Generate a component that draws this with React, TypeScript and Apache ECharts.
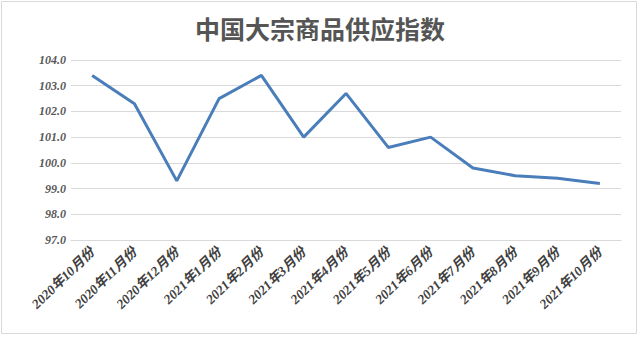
import React, { useEffect, useRef } from "react";
import * as echarts from "echarts";

const categories = [
  "2020年10月份", "2020年11月份", "2020年12月份", "2021年1月份", "2021年2月份", "2021年3月份",
  "2021年4月份", "2021年5月份", "2021年6月份", "2021年7月份", "2021年8月份", "2021年9月份", "2021年10月份",
];
const values = [103.4, 102.3, 99.3, 102.5, 103.4, 101.0, 102.7, 100.6, 101.0, 99.8, 99.5, 99.4, 99.2];
const title = "中国大宗商品供应指数";

export default function App() {
  const ref = useRef<HTMLDivElement>(null);
  useEffect(() => {
    if (!ref.current) return;
    const chart = echarts.init(ref.current, null, { renderer: "svg" });
    chart.setOption({
      animation: false,
      backgroundColor: "#ffffff",
      title: {
        text: title,
        left: "center",
        top: 10,
        textStyle: { fontSize: 25, fontWeight: "bold", color: "#555555", fontFamily: "Noto Sans CJK SC" },
      },
      graphic: [
        {
          type: "rect",
          shape: { x: 1.5, y: 1.5, width: 635, height: 332 },
          style: { fill: "none", stroke: "#d9d9d9", lineWidth: 1 },
          silent: true,
        },
      ],
      grid: { left: 71, right: 19, top: 60, bottom: 97 },
      xAxis: {
        type: "category",
        data: categories,
        boundaryGap: true,
        axisLine: { show: true, lineStyle: { color: "#d9d9d9" } },
        axisTick: { show: false },
        axisLabel: {
          rotate: 44,
          interval: 0,
          margin: 10,
          fontSize: 13.5,
          fontWeight: "bold",
          fontStyle: "italic",
          color: "#404040",
          fontFamily: "Liberation Serif, Noto Sans CJK SC",
        },
      },
      yAxis: {
        type: "value",
        min: 97,
        max: 104,
        interval: 1,
        axisLine: { show: false },
        axisTick: { show: false },
        splitLine: { lineStyle: { color: "#d9d9d9", width: 1 } },
        axisLabel: {
          formatter: (v: number) => v.toFixed(1),
          fontSize: 12,
          fontStyle: "italic",
          fontWeight: "bold",
          color: "#595959",
          margin: 5,
          fontFamily: "Liberation Serif",
        },
      },
      series: [
        {
          type: "line",
          data: values,
          symbol: "none",
          lineStyle: { color: "#4A7EBB", width: 3 },
        },
      ],
    });
    return () => chart.dispose();
  }, []);
  return <div ref={ref} style={{ width: 640, height: 337, position: "absolute", left: 0, top: 0 }} />;
}
